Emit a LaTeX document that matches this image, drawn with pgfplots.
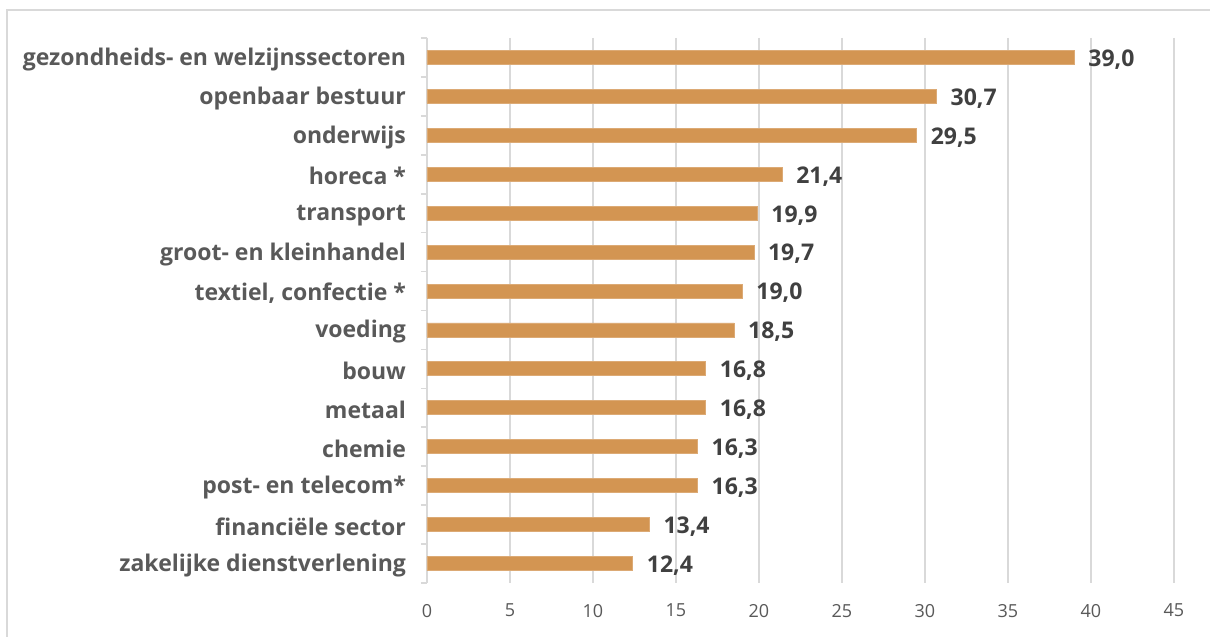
\documentclass[border=0pt]{standalone}
\usepackage{pgfplots}
\pgfplotsset{compat=1.18}
\usepackage{fontspec}
\setmainfont{Open Sans}
\definecolor{barc}{HTML}{D39552}
\definecolor{lblc}{HTML}{595959}
\definecolor{valc}{HTML}{404040}
\definecolor{gridc}{HTML}{D9D9D9}
\begin{document}
\begin{tikzpicture}
% 1 px of the reference = 0.5pt
\clip (-213.5pt,-27pt) rectangle (391.5pt,291.5pt);
\fill[white] (-213.5pt,-27pt) rectangle (391.5pt,291.5pt);
\draw[gridc, line width=0.8pt] (-210pt,-40pt) rectangle (400pt,286.5pt);
\begin{axis}[
    at={(0,0)}, anchor=south west,
    scale only axis, width=373.5pt, height=272.5pt,
    xbar, bar width=7pt,
    xmin=0, xmax=45, xtick={0,5,...,45},
    ymin=-0.5, ymax=13.5, y dir=reverse,
    ytick={0,...,13},
    yticklabels={gezondheids- en welzijnssectoren, openbaar bestuur, onderwijs, horeca *, transport, groot- en kleinhandel, {textiel, confectie *}, voeding, bouw, metaal, chemie, post- en telecom*, financiële sector, zakelijke dienstverlening},
    minor ytick={-0.5,0.5,...,13.5},
    axis x line*=bottom, axis y line*=left,
    x axis line style={draw=none},
    y axis line style={draw=gridc, line width=0.8pt, -},
    major tick length=0pt, minor tick length=3pt, tick align=outside,
    minor tick style={draw=gridc, line width=0.8pt},
    xmajorgrids, grid style={draw=gridc, line width=0.8pt},
    xticklabel style={font=\fontsize{9}{10}\selectfont, text=lblc, yshift=-7pt},
    yticklabel style={font=\fontsize{11.5}{13}\selectfont\bfseries, text=lblc, xshift=-7pt, yshift=-1pt},
    /pgf/number format/assume math mode=true,
    nodes near coords={\pgfmathprintnumber[fixed, fixed zerofill, precision=1, use comma]{\pgfplotspointmeta}},
    nodes near coords align={horizontal},
    every node near coord/.append style={font=\fontsize{11.5}{13}\selectfont\bfseries, text=valc, xshift=3.5pt, yshift=-1pt},
]
\addplot[fill=barc, draw=barc!80!white] coordinates {
(39.0,0) (30.7,1) (29.5,2) (21.4,3) (19.9,4) (19.7,5) (19.0,6)
(18.5,7) (16.8,8) (16.8,9) (16.3,10) (16.3,11) (13.4,12) (12.4,13)};
\end{axis}
\end{tikzpicture}
\end{document}
